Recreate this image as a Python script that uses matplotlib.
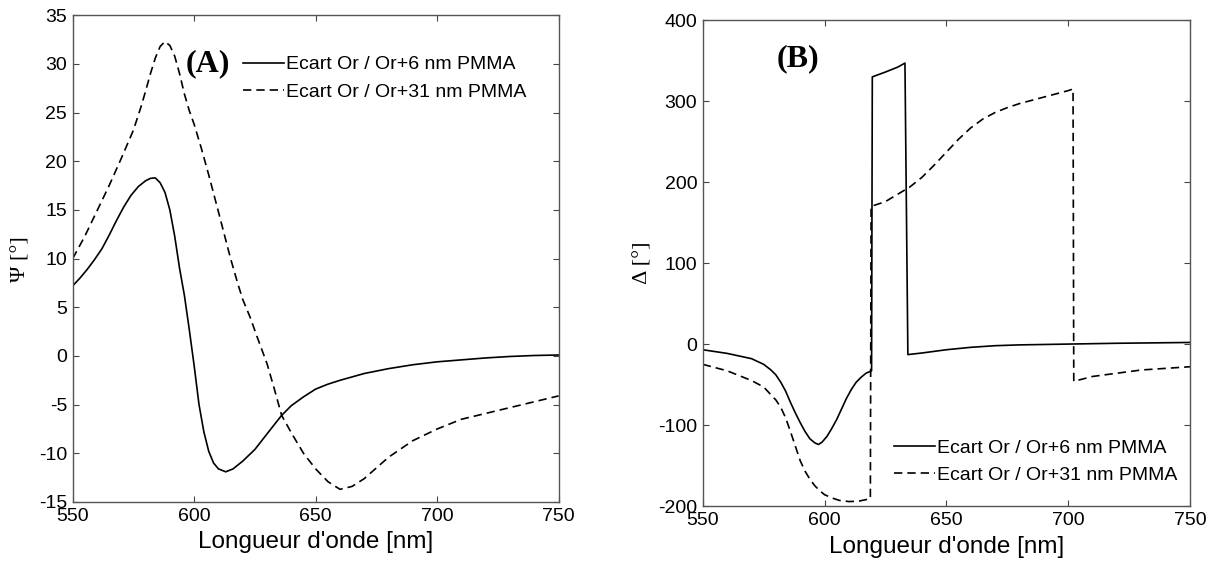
import numpy as np
import matplotlib.pyplot as plt

# Panel A : Psi difference
wl_psi_6 = [550, 553, 556, 559, 562, 565, 568, 571, 574, 577, 580, 582, 584, 586, 588,
            590, 592, 594, 596, 598, 600, 602, 604, 606, 608, 610, 613, 616, 620, 625,
            630, 636, 640, 645, 650, 655, 660, 670, 680, 690, 700, 710, 720, 730, 740, 750]
psi_6 = [7.2, 8.0, 8.9, 9.9, 11.0, 12.4, 13.9, 15.3, 16.5, 17.4, 18.0, 18.25, 18.3, 17.8, 16.8,
         15.0, 12.3, 9.0, 6.2, 2.7, -1.0, -5.0, -7.8, -9.8, -11.0, -11.6, -11.9, -11.6, -10.8, -9.6,
         -8.0, -6.1, -5.1, -4.2, -3.4, -2.9, -2.5, -1.8, -1.3, -0.9, -0.6, -0.4, -0.2, -0.05, 0.05, 0.1]

wl_psi_31 = [550, 555, 560, 565, 570, 575, 578, 580, 582, 584, 586, 588, 590, 592, 594,
             596, 598, 600, 603, 606, 610, 615, 618, 620, 623, 626, 630, 633, 636, 640,
             645, 650, 655, 660, 665, 670, 675, 680, 690, 700, 710, 720, 730, 740, 750]
psi_31 = [10.0, 12.3, 14.9, 17.5, 20.3, 23.2, 25.5, 27.2, 29.0, 30.6, 31.8, 32.3, 31.9, 30.8, 29.0,
          26.9, 25.2, 23.8, 21.3, 18.6, 14.8, 10.0, 7.4, 5.8, 4.0, 1.9, -0.8, -3.4, -6.1, -7.9,
          -10.0, -11.6, -12.9, -13.7, -13.4, -12.6, -11.5, -10.4, -8.7, -7.5, -6.5, -5.9, -5.3, -4.7, -4.1]

# Panel B : Delta difference
wl_del_6 = [550, 560, 570, 575, 578, 580, 582, 584, 586, 588, 590, 592, 594, 596, 597.5,
            599, 601, 603, 605, 607, 609, 611, 613, 615, 617, 619.3,
            619.6, 625, 630, 633, 634.2, 640, 650, 660, 670, 680, 700, 720, 750]
delta_6 = [-7, -11.5, -18, -25, -32, -38, -47, -58, -72, -85, -97, -108, -117, -122, -124,
           -121, -114, -104, -93, -80, -67, -56, -47, -41, -36, -33,
           330, 336, 342, 347, -13, -11, -7, -4, -2, -1, 0, 1, 2]

wl_del_31 = [550, 560, 570, 575, 580, 582, 584, 586, 588, 590, 592, 594, 596, 598, 600,
             603, 606, 610, 614, 618.8,
             619.1, 625, 630, 635, 640, 645, 650, 655, 660, 665, 670, 675, 680, 690, 700, 702,
             702.3, 710, 720, 730, 740, 750]
delta_31 = [-25, -33, -45, -53, -69, -78, -91, -108, -126, -144, -157, -167, -175, -181, -186,
            -190, -193, -194.5, -194, -191,
            170, 176, 185, 194, 206, 221, 237, 253, 267, 278, 286, 292, 297, 305, 313, 315,
            -46, -40, -36, -32, -30, -28]

lab6 = 'Ecart Or / Or+6 nm PMMA'
lab31 = 'Ecart Or / Or+31 nm PMMA'

plt.rcParams['font.family'] = ['Liberation Sans', 'DejaVu Sans']
plt.rcParams['axes.unicode_minus'] = False

fig = plt.figure(figsize=(12.15, 5.61), dpi=100)
axA = fig.add_axes([0.0598, 0.1052, 0.400, 0.8675])
axB = fig.add_axes([0.5784, 0.0980, 0.401, 0.8660])

dash = (0, (5, 3))
serif = ['Liberation Serif', 'DejaVu Serif']

for ax in (axA, axB):
    ax.set_xlim(550, 750)
    ax.set_xticks([550, 600, 650, 700, 750])
    ax.tick_params(direction='in', length=4, width=0.8, top=True, right=True,
                   labelsize=14, pad=4, color='#444444')
    for sp in ax.spines.values():
        sp.set_color('#555555')
        sp.set_linewidth(1.0)
    ax.set_xlabel("Longueur d'onde [nm]", fontsize=17.5, labelpad=5)

# panel A
axA.plot(wl_psi_6, psi_6, color='black', lw=1.2, label=lab6)
axA.plot(wl_psi_31, psi_31, color='black', lw=1.2, linestyle=dash, label=lab31)
axA.set_ylim(-15, 35)
axA.set_yticks(np.arange(-15, 36, 5))
axA.set_ylabel('Ψ [°]', fontsize=16, family=serif, labelpad=6)
axA.text(0.233, 0.90, '(A)', transform=axA.transAxes, fontsize=23, fontweight='bold',
         family=serif, va='center', ha='left')
axA.legend(loc='upper left', bbox_to_anchor=(0.350, 0.917), frameon=False, fontsize=14,
           handlelength=2.1, handletextpad=0.1, borderpad=0, borderaxespad=0, labelspacing=0.5)

# panel B
axB.plot(wl_del_6, delta_6, color='black', lw=1.2, label=lab6)
axB.plot(wl_del_31, delta_31, color='black', lw=1.2, linestyle=dash, label=lab31)
axB.set_ylim(-200, 400)
axB.set_yticks(np.arange(-200, 401, 100))
axB.set_ylabel('Δ [°]', fontsize=16, family=serif, labelpad=4)
axB.text(0.152, 0.92, '(B)', transform=axB.transAxes, fontsize=23, fontweight='bold',
         family=serif, va='center', ha='left')
axB.legend(loc='upper left', bbox_to_anchor=(0.393, 0.138), frameon=False, fontsize=14,
           handlelength=2.1, handletextpad=0.1, borderpad=0, borderaxespad=0, labelspacing=0.5)

fig.savefig('out.png', dpi=100)
